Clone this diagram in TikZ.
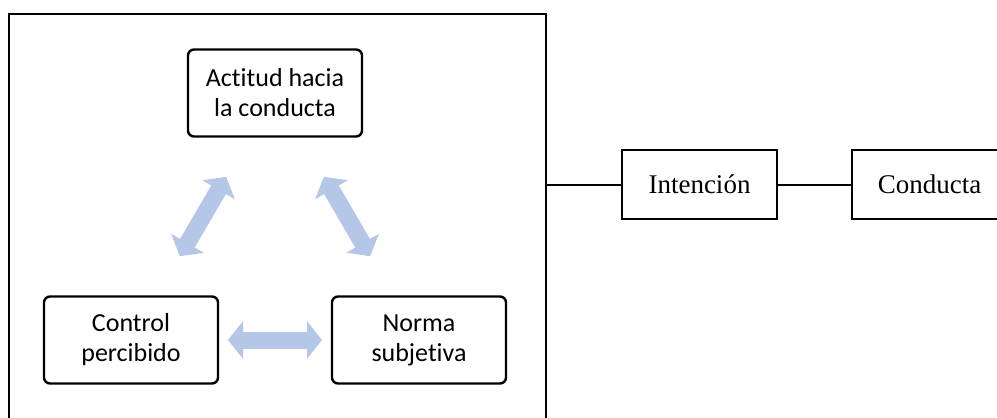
\documentclass[tikz,border=0pt]{standalone}
\usepackage{fontspec}
\setmainfont{Liberation Serif}
\newfontfamily\calibrifont[Ligatures=NoCommon]{Carlito}
\usepackage{xcolor}
\usepackage{tikz}
\usetikzlibrary{arrows.meta}
\usetikzlibrary{calc}
\usetikzlibrary{positioning}
\definecolor{softblue}{HTML}{B4C7E7}

\begin{document}
\begin{tikzpicture}[x=0.5pt,y=-0.5pt,thick,
    main node/.style={rectangle,draw,rounded corners=3pt,line width=1.2pt,align=center,inner sep=0pt,minimum width=87pt,minimum height=43.5pt,font=\calibrifont\fontsize{13}{15}\selectfont},
    plain node/.style={rectangle,draw,line width=1.1pt,inner sep=0pt,minimum width=77.5pt,minimum height=34.5pt,font=\fontsize{13.5}{16}\selectfont},
    fat arrow/.style={draw=softblue,line width=8.5pt,{Triangle[width=18.5pt,length=7.5pt]}-{Triangle[width=18.5pt,length=7.5pt]},shorten <=48.5pt,shorten >=48.5pt}]

    \useasboundingbox (0,0) rectangle (997,418);
    \clip (0,0) rectangle (997,418);

    \node[draw,line width=1.3pt,inner sep=0pt,minimum width=268.5pt,minimum height=213pt] (frame) at (277.5,227) {};

    \node[main node] (actitud) at (275,93) {Actitud hacia\\la conducta};
    \node[main node,on grid,below left=123.5pt and 72pt of actitud] (control) {Control\\percibido};
    \node[main node,on grid,right=144pt of control] (norma) {Norma\\subjetiva};

    \node[plain node] (intencion) at (699.5,184.5) {Intención};
    \node[plain node,on grid,right=115pt of intencion] (conducta) {Conducta};

    \path[fat arrow] (control.center) -- (actitud.center);
    \path[fat arrow] (actitud.center) -- (norma.center);
    \path[fat arrow] (control.center) -- (norma.center);

    \draw[line width=1pt]
    (frame.east |- intencion)
    -- (intencion.west);
    \draw[line width=1pt] (intencion) -- (conducta);

\end{tikzpicture}
\end{document}
